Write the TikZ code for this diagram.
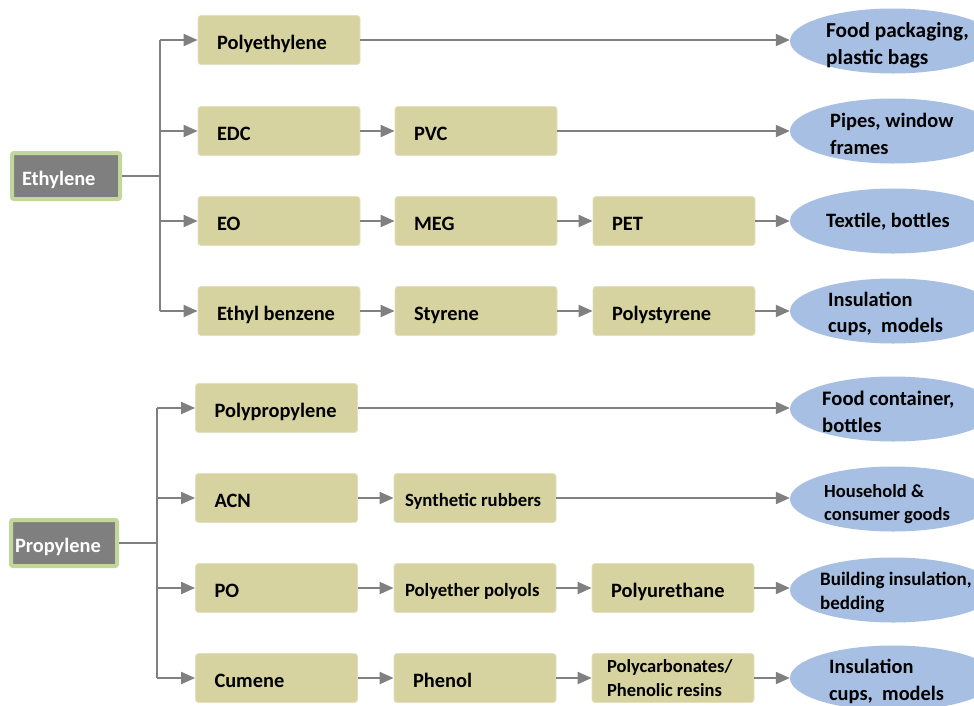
\documentclass[tikz,border=0pt]{standalone}
\usepackage{fontspec}
\setmainfont{Carlito}
\usetikzlibrary{arrows.meta,shapes.geometric}
\definecolor{boxfill}{RGB}{214,211,160}
\definecolor{boxline}{RGB}{226,224,190}
\definecolor{ellfill}{RGB}{166,191,227}
\definecolor{linegray}{RGB}{128,128,128}
\definecolor{srcfill}{RGB}{127,127,127}
\definecolor{srcline}{RGB}{195,214,155}
\newcommand\nsp{\spaceskip=0pt\xspaceskip=0pt\relax}
\begin{document}
\begin{tikzpicture}[x=1pt,y=-1pt,
  boxbase/.style={draw=boxline, line width=0.8pt, fill=boxfill, rounded corners=3pt,
    minimum height=49pt, inner ysep=0pt, inner xsep=19pt, text width=124pt,
    align=left, font=\bfseries\fontsize{20.4}{25}\selectfont},
  box/.style={boxbase, text height=18pt, text depth=0pt},
  smallbox/.style={box, inner xsep=11pt, text width=140pt, text height=17pt,
    font=\bfseries\fontsize{18.7}{23}\selectfont},
  src/.style={draw=srcline, line width=4pt, fill=srcfill, rounded corners=2pt,
    minimum height=46pt, inner ysep=0pt, align=left, text=white,
    text height=18pt, text depth=0pt,
    font=\bfseries\fontsize{20.4}{25}\selectfont},
  ell/.style={ellipse, fill=ellfill, minimum width=206pt, minimum height=65pt, inner sep=0pt},
  etxt/.style={anchor=west, align=left, inner sep=0pt},
  arr/.style={draw=linegray, line width=2pt, -{Triangle[length=14pt,width=12pt]}},
  ln/.style={draw=linegray, line width=2pt}
]
\clip (0,0) rectangle (974,705);
\fill[white] (0,0) rectangle (974,705);

% ---------------- Ethylene ----------------
\node[src, inner xsep=10pt, text width=88pt] (eth) at (66,176) {Ethylene};
\coordinate (ej) at (160,176);

\node[box] (pe)  at (279,40)  {Polyethylene};
\node[box] (edc) at (279,131) {EDC};
\node[box] (pvc) at (476,131) {PVC};
\node[box] (eo)  at (279,221) {EO};
\node[box] (meg) at (476,221) {MEG};
\node[box] (pet) at (674,221) {PET};
\node[box] (eb)  at (279,311) {\nsp Ethyl benzene};
\node[box] (sty) at (476,311) {Styrene};
\node[box] (ps)  at (674,311) {Polystyrene};

\node[ell] (e1) at (893,41) {};
\node[ell] (e2) at (893,131) {};
\node[ell] (e3) at (893,221) {};
\node[ell] (e4) at (893,311) {};
\node[etxt, font=\bfseries\fontsize{21.3}{27}\selectfont] (t1) at (826,45) {\nsp Food packaging,\\plastic bags};
\node[etxt, font=\bfseries\fontsize{20.4}{27}\selectfont] (t2) at (830,134) {\nsp Pipes, window\\frames};
\node[etxt, font=\bfseries\fontsize{20.4}{27}\selectfont] (t3) at (826,222) {\nsp Textile, bottles};
\node[etxt, font=\bfseries\fontsize{20.4}{26}\selectfont] (t4) at (828,314) {\nsp Insulation\\cups,~ models};

\draw[ln] (eth.east) -- (ej);
\draw[ln] (ej |- pe) -- (ej |- eb);
\draw[arr] (ej |- pe) -- (pe.west);
\draw[arr] (ej |- edc) -- (edc.west);
\draw[arr] (ej |- eo) -- (eo.west);
\draw[arr] (ej |- eb) -- (eb.west);
\draw[arr] (edc) -- (pvc);
\draw[arr] (eo) -- (meg);
\draw[arr] (meg) -- (pet);
\draw[arr] (eb) -- (sty);
\draw[arr] (sty) -- (ps);
\draw[arr] (pe.east) -- (pe.east -| e1.west);
\draw[arr] (pvc.east) -- (pvc.east -| e2.west);
\draw[arr] (pet.east) -- (pet.east -| e3.west);
\draw[arr] (ps.east) -- (ps.east -| e4.west);

% ---------------- Propylene ----------------
\node[src, inner xsep=4pt, text width=98pt] (pro) at (64,543) {Propylene};
\coordinate (pj) at (157,543);

\node[box] (pp)  at (276.5,408) {Polypropylene};
\node[box] (acn) at (276.5,498) {ACN};
\node[smallbox] (sr) at (475,498) {\nsp Synthetic rubbers};
\node[box] (po)  at (276.5,588) {PO};
\node[smallbox] (ppl) at (475,588) {\nsp Polyether polyols};
\node[box] (pu)  at (673,588) {Polyurethane};
\node[box] (cu)  at (276.5,678) {Cumene};
\node[box] (ph)  at (475,678) {Phenol};
\node[boxbase, inner xsep=15pt, text width=132pt,
  font=\bfseries\fontsize{18.5}{24}\selectfont] (pc) at (673,678) {\nsp Polycarbonates/\\Phenolic resins};

\node[ell] (f1) at (893,409) {};
\node[ell] (f2) at (893,499) {};
\node[ell] (f3) at (893,590) {};
\node[ell] (f4) at (893,678) {};
\node[etxt, font=\bfseries\fontsize{20.6}{27}\selectfont] (u1) at (822,412) {\nsp Food container,\\bottles};
\node[etxt, font=\bfseries\fontsize{18.5}{23}\selectfont] (u2) at (824,504) {\nsp Household \&\\consumer goods};
\node[etxt, font=\bfseries\fontsize{19}{24}\selectfont] (u3) at (820,592) {\nsp Building insulation,\\bedding};
\node[etxt, font=\bfseries\fontsize{20.4}{27}\selectfont] (u4) at (829,681) {\nsp Insulation\\cups,~ models};

\draw[ln] (pro.east) -- (pj);
\draw[ln] (pj |- pp) -- (pj |- cu);
\draw[arr] (pj |- pp) -- (pp.west);
\draw[arr] (pj |- acn) -- (acn.west);
\draw[arr] (pj |- po) -- (po.west);
\draw[arr] (pj |- cu) -- (cu.west);
\draw[arr] (acn) -- (sr);
\draw[arr] (po) -- (ppl);
\draw[arr] (ppl) -- (pu);
\draw[arr] (cu) -- (ph);
\draw[arr] (ph) -- (pc);
\draw[arr] (pp.east) -- (pp.east -| f1.west);
\draw[arr] (sr.east) -- (sr.east -| f2.west);
\draw[arr] (pu.east) -- (pu.east -| f3.west);
\draw[arr] (pc.east) -- (pc.east -| f4.west);
\end{tikzpicture}
\end{document}
